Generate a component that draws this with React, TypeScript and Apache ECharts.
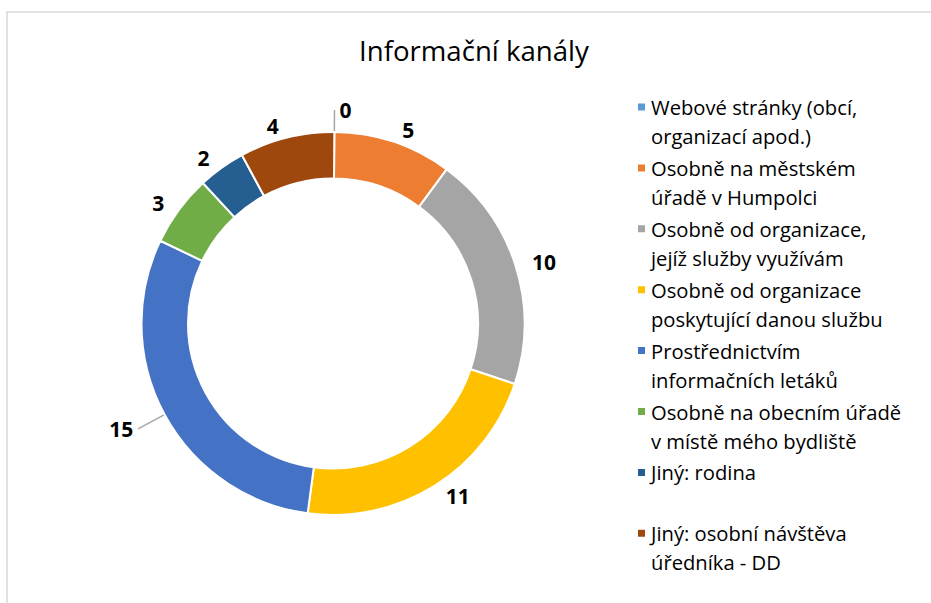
import React, { useEffect, useRef } from "react";
import * as echarts from "echarts";

const title = "Informační kanály";

const categories = [
  "Webové stránky (obcí, organizací apod.)",
  "Osobně na městském úřadě v Humpolci",
  "Osobně od organizace, jejíž služby využívám",
  "Osobně od organizace poskytující danou službu",
  "Prostřednictvím informačních letáků",
  "Osobně na obecním úřadě v místě mého bydliště",
  "Jiný: rodina",
  "Jiný: osobní návštěva úředníka - DD",
];

const legendLines = [
  ["Webové stránky (obcí,", "organizací apod.)"],
  ["Osobně na městském", "úřadě v Humpolci"],
  ["Osobně od organizace,", "jejíž služby využívám"],
  ["Osobně od organizace", "poskytující danou službu"],
  ["Prostřednictvím", "informačních letáků"],
  ["Osobně na obecním úřadě", "v místě mého bydliště"],
  ["Jiný: rodina", " "],
  ["Jiný: osobní návštěva", "úředníka - DD"],
];

const values = [0, 5, 10, 11, 15, 3, 2, 4];

const colors = [
  "#5B9BD5",
  "#ED7D31",
  "#A5A5A5",
  "#FFC000",
  "#4472C4",
  "#70AD47",
  "#255E91",
  "#9E480E",
];

// items whose data label has a leader line in the reference
const withLeader = [0, 4];

export default function App() {
  const ref = useRef<HTMLDivElement>(null);

  useEffect(() => {
    if (!ref.current) return;
    const chart = echarts.init(ref.current, null, { renderer: "svg" });
    const font = "'Open Sans', 'Noto Sans', sans-serif";

    const data = categories.map((name, i) => {
      const item: any = {
        name,
        value: values[i],
        itemStyle: { color: colors[i] },
      };
      if (withLeader.includes(i)) {
        item.labelLine = {
          show: true,
          length: i === 0 ? 22 : 30,
          length2: 0,
          lineStyle: { color: "#a6a6a6", width: 1.5 },
        };
      }
      return item;
    });

    chart.setOption({
      animation: false,
      backgroundColor: "#ffffff",
      title: {
        text: title,
        left: 359,
        top: 36,
        padding: 0,
        textStyle: {
          fontFamily: font,
          fontSize: 27.6,
          fontWeight: "normal",
          color: "#000000",
        },
      },
      graphic: [
        {
          type: "rect",
          shape: { x: 7, y: 12, width: 1000, height: 1000 },
          style: { fill: "none", stroke: "#d9d9d9", lineWidth: 1.5 },
          silent: true,
        },
      ],
      legend: {
        orient: "vertical",
        left: 636,
        top: 63.5,
        padding: 0,
        itemGap: -26.1,
        itemWidth: 9,
        itemHeight: 9,
        icon: "rect",
        selectedMode: false,
        data: categories,
        formatter: (name: string) => {
          const i = categories.indexOf(name);
          return " \n" + legendLines[i].join("\n");
        },
        textStyle: {
          fontFamily: font,
          fontSize: 20.2,
          lineHeight: 29,
          color: "#000000",
        },
      },
      series: [
        {
          type: "pie",
          center: [333, 323.5],
          radius: [145, 191.5],
          startAngle: 89.6,
          clockwise: true,
          avoidLabelOverlap: false,
          itemStyle: { borderColor: "#ffffff", borderWidth: 2 },
          label: {
            show: true,
            position: "outside",
            formatter: "{c}",
            fontFamily: font,
            fontSize: 21,
            fontWeight: "bold",
            color: "#000000",
          },
          labelLine: { show: false, length: 12, length2: 0 },
          emphasis: { disabled: true },
          data,
        },
      ],
    });

    return () => chart.dispose();
  }, []);

  return (
    <div
      ref={ref}
      style={{ position: "absolute", left: 0, top: 0, width: 931, height: 603 }}
    />
  );
}
